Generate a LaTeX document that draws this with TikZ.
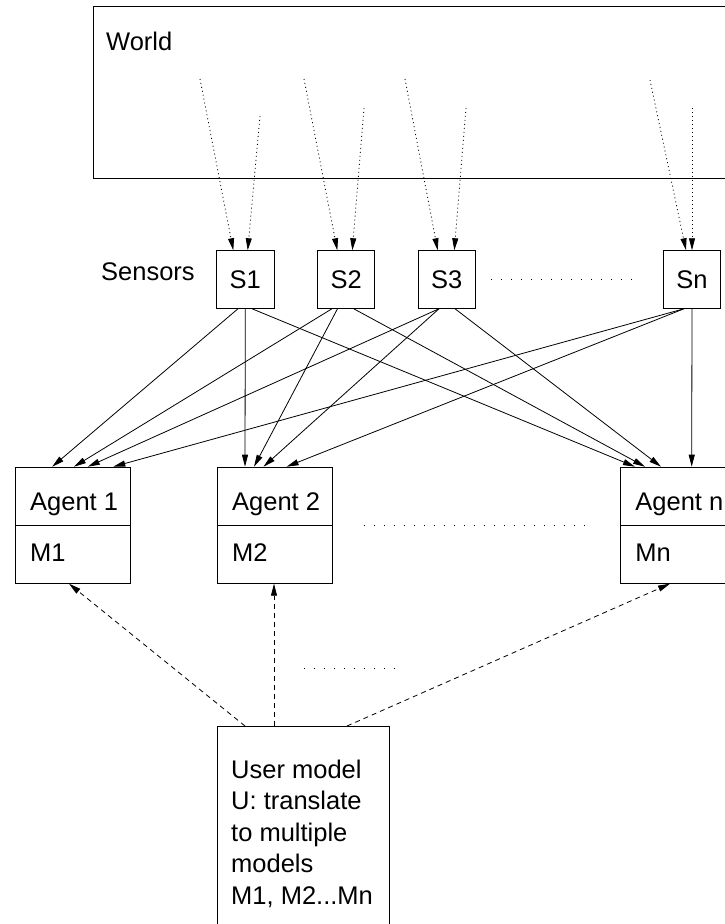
\documentclass[tikz,border=0pt]{standalone}
\usepackage{fontspec}
\setmainfont{Liberation Sans}
\usetikzlibrary{arrows.meta,calc}
\begin{document}
\begin{tikzpicture}[x=1pt,y=-1pt,
  box/.style={draw, line width=1pt, inner sep=0pt},
  lbl/.style={font=\fontsize{25.5}{31.6}\selectfont, inner sep=0pt},
  tip/.style={-{Triangle[length=12pt,width=6pt]}},
  sense/.style={tip, line width=0.8pt, dash pattern=on 1pt off 3pt},
  feed/.style={tip, line width=0.8pt},
  usr/.style={tip, line width=0.8pt, dash pattern=on 5pt off 4pt},
  etc/.style={line width=0.8pt, dash pattern=on 1pt off 9pt}
]
\useasboundingbox (0,0) rectangle (725,924);
\clip (0,0) rectangle (725,924);

% World
\node[box, minimum width=646pt, minimum height=172pt] (world) at (416.75,92) {};
\node[lbl, anchor=base west] (worldlbl) at (106,50) {World};

% Sensors
\node[lbl, anchor=base west] (senslbl) at (101,280) {Sensors};
\node[box, lbl, minimum size=57.5pt] (S1) at (245.3,279.5) {S1};
\node[box, lbl, minimum size=57.5pt] (S2) at (346.2,279.5) {S2};
\node[box, lbl, minimum size=57.5pt] (S3) at (446.8,279.5) {S3};
\node[box, lbl, minimum size=57.5pt] (Sn) at (692,279.5) {Sn};
\draw[etc] ($(S3.east)+(15.3,0)$) -- ($(Sn.west)+(-28.3,0)$);

% free ends of the sensing arrows inside the world
\coordinate (w1a) at (200,79);  \coordinate (w1b) at (260,116);
\coordinate (w2a) at (304,79);  \coordinate (w2b) at (364,108);
\coordinate (w3a) at (405,79);  \coordinate (w3b) at (466,108);
\coordinate (wna) at (650,80);  \coordinate (wnb) at (692,108);
\draw[sense] (w1a) -- ($(S1.north)+(-12,0)$);
\draw[sense] (w1b) -- ($(S1.north)+(2.4,0)$);
\draw[sense] (w2a) -- ($(S2.north)+(-8.9,0)$);
\draw[sense] (w2b) -- ($(S2.north)+(6.1,0)$);
\draw[sense] (w3a) -- ($(S3.north)+(-9.1,0)$);
\draw[sense] (w3b) -- ($(S3.north)+(7.5,0)$);
\draw[sense] (wna) -- ($(Sn.north)+(-6,0)$);
\draw[sense] (wnb) -- ($(Sn.north)+(0,0)$);

% Agents
\node[box, minimum width=115.2pt, minimum height=116pt, anchor=north west] (A1) at (14.8,466.7) {};
\node[box, minimum width=115.2pt, minimum height=116pt, anchor=north west] (A2) at (216.8,466.7) {};
\node[box, minimum width=115.2pt, minimum height=116pt, anchor=north west] (An) at (620,466.7) {};
\foreach \a in {A1,A2,An} \draw[line width=1pt] (\a.west) -- (\a.east);
\node[lbl, anchor=base west] (A1t) at ($(A1.north west)+(15.2,44)$) {Agent 1};
\node[lbl, anchor=base west] (A1m) at ($(A1.north west)+(15.2,94.3)$) {M1};
\node[lbl, anchor=base west] (A2t) at ($(A2.north west)+(15.2,44)$) {Agent 2};
\node[lbl, anchor=base west] (A2m) at ($(A2.north west)+(15.2,94.3)$) {M2};
\node[lbl, anchor=base west] (Ant) at ($(An.north west)+(15.2,44)$) {Agent n};
\node[lbl, anchor=base west] (Anm) at ($(An.north west)+(15.2,94.3)$) {Mn};
\draw[etc] ($(A2.east)+(30.5,0)$) -- ($(An.west)+(-34,0)$);

% sensor -> agent connectors
\draw[feed] ($(S1.south)+(-7.3,0)$) -- ($(A1.north west)+(37.4,0)$);
\draw[feed] ($(S1.south)+(0,0)$)    -- ($(A2.north west)+(28.2,0)$);
\draw[feed] ($(S1.south)+(6.7,0)$)  -- ($(An.north west)+(15,0)$);
\draw[feed] ($(S2.south)+(-14.2,0)$) -- ($(A1.north west)+(59.2,0)$);
\draw[feed] ($(S2.south)+(-8.7,0)$)  -- ($(A2.north west)+(37.2,0)$);
\draw[feed] ($(S2.south)+(7.5,0)$)   -- ($(An.north west)+(25,0)$);
\draw[feed] ($(S3.south)+(-7.8,0)$) -- ($(A1.north west)+(73,0)$);
\draw[feed] ($(S3.south)+(-7.8,0)$) -- ($(A2.north west)+(46.7,0)$);
\draw[feed] ($(S3.south)+(8.2,0)$)  -- ($(An.north west)+(41,0)$);
\draw[feed] ($(Sn.south)+(-8,0)$) -- ($(A1.north west)+(98.5,0)$);
\draw[feed] ($(Sn.south)+(-8,0)$) -- ($(A2.north west)+(69.8,0)$);
\draw[feed] ($(Sn.south)+(0,0)$)  -- ($(An.north west)+(71.7,0)$);

% User model
\node[box, minimum width=172.2pt, minimum height=240pt, anchor=north west] (U) at (216.8,726) {};
\node[lbl, anchor=north west, align=left] (Ut) at (231,759.5)
  {User model\\U: translate\\to multiple\\models\\M1, M2...Mn};
\draw[usr] ($(U.north west)+(28.2,0)$) -- ($(A1.south west)+(54.2,0)$);
\draw[usr] ($(U.north west)+(57.2,0)$) -- ($(A2.south west)+(57.2,0)$);
\draw[usr] ($(U.north west)+(130.2,0)$) -- ($(An.south west)+(50,0)$);
\coordinate (d1) at (304,668); \coordinate (d2) at (397,668);
\draw[etc] (d1) -- (d2);
\end{tikzpicture}
\end{document}
